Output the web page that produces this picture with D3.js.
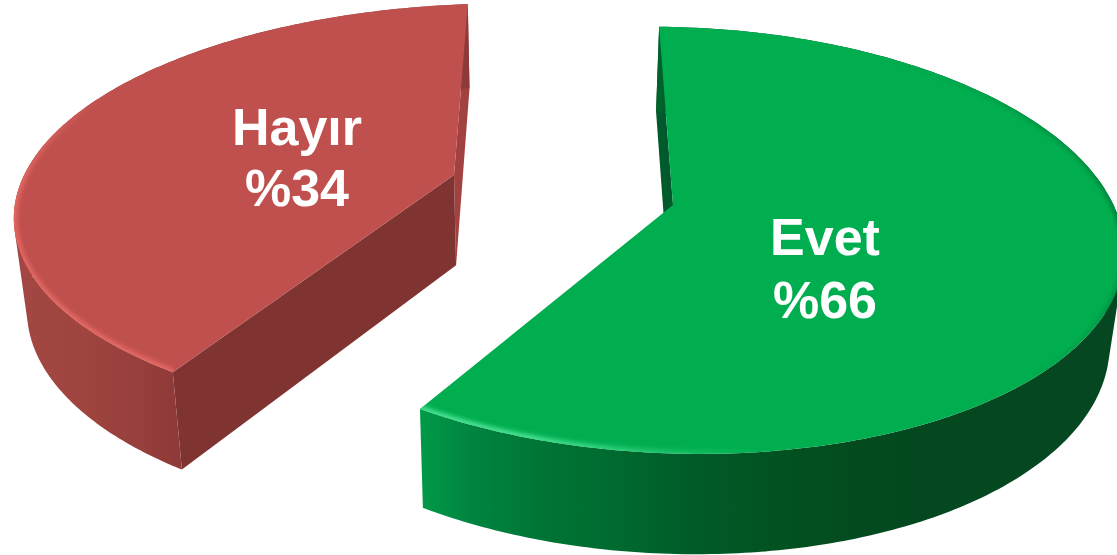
<!DOCTYPE html>
<html><head><meta charset="utf-8"><style>html,body{margin:0;background:#fff}svg{display:block}</style>
<script src="https://cdn.jsdelivr.net/npm/d3@7/dist/d3.min.js"></script></head><body><svg id="c" width="1117" height="555"></svg>
<script>
const labels=["Evet","Hayır"];
const values=[66,34];
const pctLabels=["%66","%34"];

const deg=Math.PI/180;
const svg=d3.select("#c");
const defs=svg.append("defs");
const styles=[
 {top:"#00AE50",inner:"#015A2B",endFace:null,apex:[673,205],c:[675.5,240.3],a:213.2,b:449,rot:-88.09,phi:[357,573.8],
  wall:[[420,"#009A48"],[470,"#008540"],[540,"#007535"],[620,"#00692F"],[700,"#005A28"],[800,"#03501F"],[900,"#044820"],[1117,"#044720"]],
  lx:825,ly:[255,318],
  bevel:f=>{
    if(f>528) return {c:"#4FE898",o:Math.min(0.95,(f-528)/30*0.95)};
    if(f>490) return {c:"#00662F",o:0};
    if(f>440) return {c:"#006A30",o:(490-f)/50*0.6};
    return {c:"#006A30",o:Math.max(0,(f-385)/55*0.6)};
  }},
 {top:"#BF504D",inner:"#A24240",endFace:"#803432",apex:[454,175],c:[493.3,212.9],a:209.3,b:479.5,rot:89.2,phi:[42.3,177.3],
  wall:[[15,"#A24743"],[80,"#A0443F"],[130,"#98403C"],[180,"#8E3A38"]],
  lx:297,ly:[145,206],
  bevel:f=>({c:"#EE6F69",o:f<100?0.85:Math.max(0,(128-f)/28*0.85)})}
];
const arcs=d3.pie().sort(null).startAngle(0).endAngle(2*Math.PI)(values);
const extrude=p=>[p[0]+0.025*(537-p[0]),p[1]+84+0.036*p[1]];
const line=d3.line();
svg.append("filter").attr("id","soft").attr("x","-5%").attr("y","-5%").attr("width","110%").attr("height","110%")
   .append("feGaussianBlur").attr("stdDeviation",2);

[1,0].forEach(i=>{
 const a=arcs[i],s=styles[i],th=s.rot*deg;
 const phi=d3.scaleLinear().domain([a.startAngle,a.endAngle]).range(s.phi);
 const rim=f=>{const r=f*deg;return [
   s.c[0]+s.a*Math.cos(r)*Math.cos(th)-s.b*Math.sin(r)*Math.sin(th),
   s.c[1]+s.a*Math.cos(r)*Math.sin(th)+s.b*Math.sin(r)*Math.cos(th)];};
 const ts=d3.range(0,241).map(k=>a.startAngle+(a.endAngle-a.startAngle)*k/240);
 const fs=ts.map(phi),pts=fs.map(rim);
 const g=svg.append("g");
 const x0=s.wall[0][0],x1=s.wall[s.wall.length-1][0];
 const grad=defs.append("linearGradient").attr("id","wall"+i).attr("gradientUnits","userSpaceOnUse")
   .attr("x1",x0).attr("x2",x1).attr("y1",0).attr("y2",0);
 s.wall.forEach(w=>grad.append("stop").attr("offset",(w[0]-x0)/(x1-x0)).attr("stop-color",w[1]));
 const first=pts[0],last=pts[pts.length-1];
 const startEdge=i===0?first:last, hiddenEdge=i===0?last:first;
 g.append("path").attr("d",line([startEdge,s.apex,extrude(s.apex),extrude(startEdge)])+"Z").attr("fill",s.inner);
 if(s.endFace) g.append("path").attr("d",line([s.apex,hiddenEdge,extrude(hiddenEdge),extrude(s.apex)])+"Z").attr("fill",s.endFace);
 // outer wall: union of one quad per rim step, so the silhouette is the swept shape
 const wallD=d3.pairs(pts).map(([p,q])=>{
   const quad=[p,q,extrude(q),extrude(p)];
   const area=d3.polygonArea(quad);
   return line(area<0?quad:quad.slice().reverse())+"Z";
 }).join("");
 g.append("path").attr("d",wallD).attr("fill",`url(#wall${i})`);
 const topD=line([s.apex].concat(pts))+"Z";
 g.append("path").attr("d",topD).attr("fill",s.top);
 defs.append("clipPath").attr("id","clip"+i).append("path").attr("d",topD);
 const bevel=g.append("g").attr("clip-path",`url(#clip${i})`).append("g").attr("filter","url(#soft)");
 d3.pairs(d3.range(pts.length)).forEach(([p,q])=>{
   const b=s.bevel(fs[p]);
   if(b.o<=0.01) return;
   bevel.append("path").attr("d",line([pts[p],pts[q]])).attr("stroke",b.c).attr("stroke-opacity",b.o)
     .attr("stroke-width",7).attr("fill","none");
 });
 const t=g.append("g").attr("fill","#fff").attr("font-family","'Liberation Sans',Arial,sans-serif").attr("font-weight","bold")
   .attr("font-size",52).attr("text-anchor","middle");
 t.append("text").attr("x",s.lx).attr("y",s.ly[0]).text(labels[i]);
 t.append("text").attr("x",s.lx).attr("y",s.ly[1]).text(pctLabels[i]);
});
</script></body></html>
